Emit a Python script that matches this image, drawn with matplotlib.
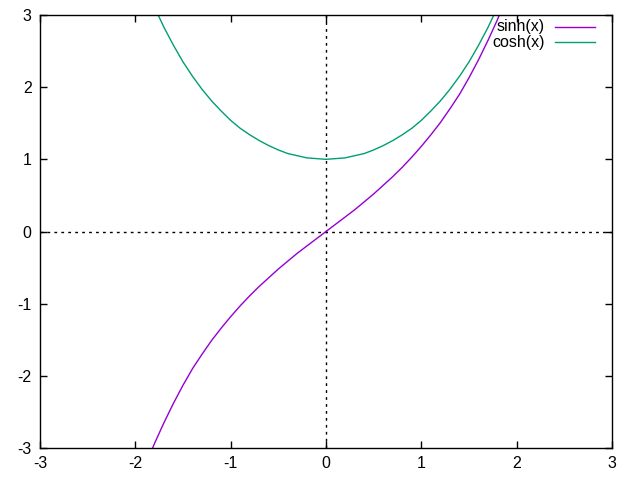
import matplotlib
matplotlib.use('Agg')
import matplotlib.pyplot as plt
from matplotlib.lines import Line2D

xs = [-2.0, -1.9, -1.8, -1.7, -1.6, -1.5, -1.4, -1.3, -1.2, -1.1, -1.0,
      -0.9, -0.8, -0.7, -0.6, -0.5, -0.4, -0.3, -0.2, -0.1, 0.0,
      0.1, 0.2, 0.3, 0.4, 0.5, 0.6, 0.7, 0.8, 0.9, 1.0,
      1.1, 1.2, 1.3, 1.4, 1.5, 1.6, 1.7, 1.8, 1.9, 2.0]
sinh_y = [-3.63, -3.27, -2.94, -2.65, -2.38, -2.13, -1.90, -1.70, -1.51, -1.34, -1.18,
          -1.03, -0.89, -0.76, -0.64, -0.52, -0.41, -0.30, -0.20, -0.10, 0.00,
          0.10, 0.20, 0.30, 0.41, 0.52, 0.64, 0.76, 0.89, 1.03, 1.18,
          1.34, 1.51, 1.70, 1.90, 2.13, 2.38, 2.65, 2.94, 3.27, 3.63]
cosh_y = [3.76, 3.42, 3.11, 2.83, 2.58, 2.35, 2.15, 1.97, 1.81, 1.67, 1.54,
          1.43, 1.34, 1.26, 1.19, 1.13, 1.08, 1.05, 1.02, 1.01, 1.00,
          1.01, 1.02, 1.05, 1.08, 1.13, 1.19, 1.26, 1.34, 1.43, 1.54,
          1.67, 1.81, 1.97, 2.15, 2.35, 2.58, 2.83, 3.11, 3.42, 3.76]
ticks = [-3, -2, -1, 0, 1, 2, 3]
labels = ['sinh(x)', 'cosh(x)']
colors = ['#9400d3', '#009e73']

plt.rcParams['font.family'] = ['Liberation Sans', 'DejaVu Sans']
plt.rcParams['axes.unicode_minus'] = False
fig = plt.figure(figsize=(6.4, 4.8), dpi=100)
ax = fig.add_axes([40/640, 32/480, 572/640, 433/480])

ax.axhline(0, color='black', lw=1, ls=(0, (2, 3)), zorder=1)
ax.axvline(0, color='black', lw=1, ls=(0, (2, 3)), zorder=1)
ax.plot(xs, sinh_y, color=colors[0], lw=1, zorder=2)
ax.plot(xs, cosh_y, color=colors[1], lw=1, zorder=2)

ax.set_xlim(-3, 3)
ax.set_ylim(-3, 3)
ax.set_xticks(ticks)
ax.set_yticks(ticks)
ax.tick_params(direction='in', length=5, width=1, top=True, right=True,
               labelsize=11.5, pad=6, color='black')
for s in ax.spines.values():
    s.set_linewidth(1)

# gnuplot style key, top right
for i, (lab, c) in enumerate(zip(labels, colors)):
    yy = 1 - (12 + 15 * i) / 433
    ax.text((545 - 40) / 572, yy, lab, transform=ax.transAxes, ha='right',
            va='center', fontsize=11.5)
    ax.add_line(Line2D([(555 - 40) / 572, (595 - 40) / 572], [yy, yy],
                       transform=ax.transAxes, color=c, lw=1))

fig.savefig('out.png', dpi=100)
